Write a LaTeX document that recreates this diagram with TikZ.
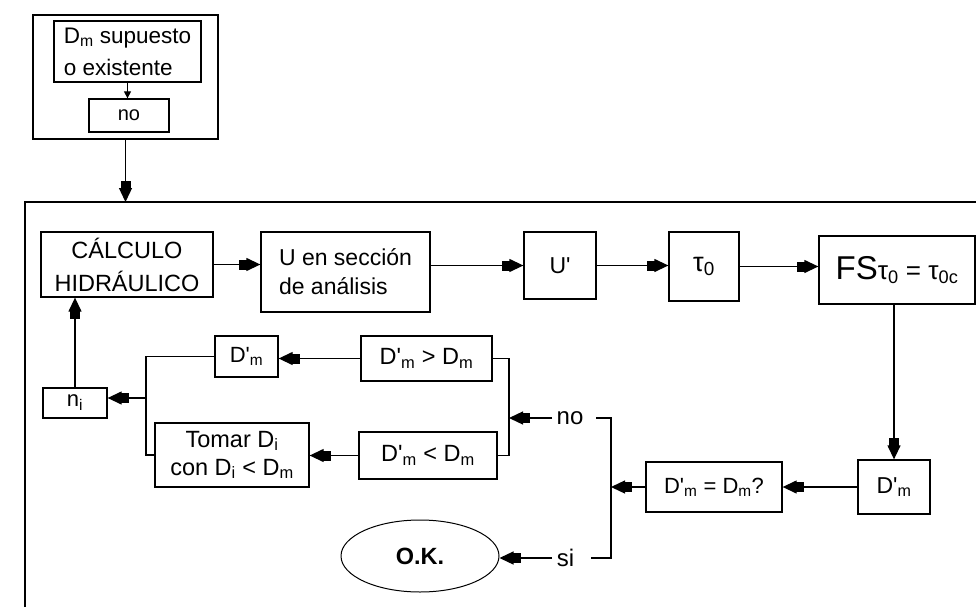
\documentclass[tikz,border=0pt]{standalone}
\usepackage{fontspec}
\setmainfont{Liberation Sans}
\usetikzlibrary{arrows.meta,shapes.geometric}

% small subscript and straight prime
\newcommand\sbm[1]{\textsubscript{#1}}
\newcommand\pr{\textquotesingle}

\begin{document}
\begin{tikzpicture}[x=1pt,y=-1pt,line width=1.3pt,
  box/.style={draw,rectangle,inner sep=0pt,align=center},
  fsz/.style={font=\fontsize{#1}{#1}\selectfont},
  lbl/.style={inner sep=4pt,font=\fontsize{24}{24}\selectfont},
  flow/.style={-{Rectangle[length=10pt,width=10pt,sep=-3pt]Triangle[length=14pt,width=13pt]}},
  tinyflow/.style={-{Triangle[length=7pt,width=7pt]}}]
\useasboundingbox (0,0) rectangle (976,607);

% starting block
\node[box,minimum width=185pt,minimum height=124pt] (outer) at (125.5,77) {};
\node[box,minimum width=147pt,minimum height=61pt,align=left,
      font=\fontsize{22.5}{32}\selectfont] (sup) at (127.5,51.5)
      {D\sbm{m} supuesto\\o existente};
\node[box,minimum width=80pt,minimum height=33pt,fsz=20] (noA) at (129,115.5) {no};
\draw[tinyflow] (sup.south) -- (sup.south |- noA.north);

% main frame
\coordinate (frametop) at (125.5,202);
\draw (25,607) -- (25,202) -- (976,202);
\draw[flow] (outer.south) -- (frametop);

% upper row
\node[box,minimum width=172pt,minimum height=65pt,
      font=\fontsize{23.5}{33}\selectfont] (calc) at (127,264.5)
      {CÁLCULO\\HIDRÁULICO};
\node[box,minimum width=169pt,minimum height=80pt,align=left,
      font=\fontsize{23}{29}\selectfont] (usec) at (345.5,272)
      {U en sección\\de análisis};
\node[box,minimum width=72pt,minimum height=67pt,fsz=23] (uprime) at (560,265.5) {U\pr};
\node[box,minimum width=70pt,minimum height=69pt,fsz=27] (tau) at (704,266.5) {τ\sbm{0}};
\node[box,minimum width=156pt,minimum height=68pt] (fs) at (897,270)
      {{\fontsize{33}{33}\selectfont FS}{\fontsize{26}{26}\selectfont τ\sbm{0} = τ\sbm{0c}}};

\draw[flow] (calc.east) -- (calc.east -| usec.west);
\draw[flow] (uprime.west -| usec.east) -- (uprime.west);
\draw[flow] (uprime.east) -- (uprime.east -| tau.west);
\draw[flow] (tau.east) -- (tau.east -| fs.west);

% decision on D'm
\node[box,minimum width=72pt,minimum height=54pt,fsz=23] (dmR) at (894,487) {D\pr\sbm{m}};
\node[box,minimum width=136pt,minimum height=50pt,fsz=22] (deq) at (714,487) {D\pr\sbm{m} = D\sbm{m}?};
\draw[flow] (fs.south -| dmR.north) -- (dmR.north);
\draw[flow] (dmR.west) -- (deq.east);

\coordinate (dj) at (611,487);
\draw[flow] (deq.west) -- (dj);
\node[lbl] (nolab) at (570,418) {no};
\node[lbl] (silab) at (565.5,558) {si};
\draw ([xshift=8pt]nolab.east) -| (dj) |- ([xshift=12pt]silab.east);

% result
\node[draw,ellipse,line width=1pt,minimum width=158pt,minimum height=72pt,inner sep=0pt,
      font=\bfseries\fontsize{23.5}{23.5}\selectfont] (ok) at (420,556) {O.K.};
\draw[flow] (silab.west) -- (silab.west -| ok.east);

% new diameter branch
\node[box,minimum width=131pt,minimum height=45pt,fsz=23.5] (dgt) at (426.5,358.5) {D\pr\sbm{m} > D\sbm{m}};
\node[box,minimum width=138pt,minimum height=47pt,fsz=23.5] (dlt) at (428,455.5) {D\pr\sbm{m} < D\sbm{m}};
\coordinate (rj) at (509,418);
\draw (dgt.east) -- (dgt.east -| rj) -- (rj |- dlt.east) -- (dlt.east);
\draw[flow] (nolab.west) -- (rj);

\node[box,minimum width=63pt,minimum height=41pt,fsz=22] (dmL) at (246.5,356.5) {D\pr\sbm{m}};
\node[box,minimum width=154pt,minimum height=64pt,
      font=\fontsize{23.5}{28}\selectfont] (tomar) at (232,455)
      {Tomar D\sbm{i}\\con D\sbm{i} < D\sbm{m}};
\draw[flow] (dgt.west) -- (dgt.west -| dmL.east);
\draw[flow] (dlt.west) -- (dlt.west -| tomar.east);

\node[box,minimum width=64pt,minimum height=30pt,fsz=22] (ni) at (75,403) {n\sbm{i}};
\coordinate (lj) at (146,398);
\draw (dmL.west) -- (dmL.west -| lj) |- (tomar.west);
\draw[flow] (lj) -- (lj -| ni.east);
\draw[flow] (ni.north) -- (ni.north |- calc.south);
\end{tikzpicture}
\end{document}
